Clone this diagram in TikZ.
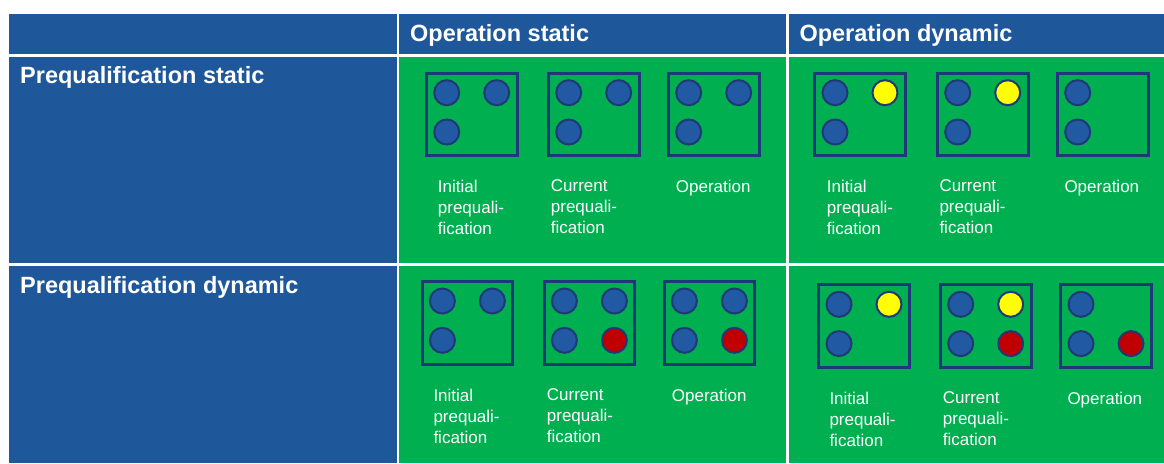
\documentclass[tikz,border=0pt]{standalone}
\usepackage{fontspec}
\setmainfont{Liberation Sans}
\definecolor{hdrblue}{RGB}{31,88,154}
\definecolor{cellgreen}{RGB}{0,176,80}
\definecolor{navy}{RGB}{31,56,120}
\definecolor{dotblue}{RGB}{33,90,162}
\definecolor{dotyellow}{RGB}{255,255,0}
\definecolor{dotred}{RGB}{192,0,0}
\newcommand\mkdot[5]{\if\relax\detokenize{#5}\relax\else\node[dot,fill=#5] (#1-#2) at ([shift={(#3,#4)}]#1.north west) {};\fi}
\newcommand\mkpanel[7]{%
  \node[panelbox] (#1) at (#2+1.4,#3+1.4) {};
  \mkdot{#1}{tl}{20.3}{19.6}{#4}%
  \mkdot{#1}{tr}{70.3}{19.6}{#5}%
  \mkdot{#1}{bl}{20.3}{58.9}{#6}%
  \mkdot{#1}{br}{70.3}{58.9}{#7}}
\begin{document}
\begin{tikzpicture}[x=1pt,y=-1pt,
  hdr/.style={anchor=base west,inner sep=0pt,text=white,font=\fontsize{23.5}{27}\selectfont\bfseries},
  lbl/.style={anchor=north west,inner sep=0pt,align=left,text=white,font=\fontsize{17}{21}\selectfont},
  panelbox/.style={draw=navy,line width=2.8pt,minimum width=90.7pt,minimum height=82.7pt,inner sep=0pt,outer sep=0pt,anchor=north west},
  dot/.style={circle,draw=navy,line width=2pt,minimum size=25pt,inner sep=0pt}]
\useasboundingbox (0,0) rectangle (1164,463);
\fill[white] (0,0) rectangle (1164,463);
% table cells
\fill[hdrblue] (9,14) rectangle (397,54);
\fill[hdrblue] (399,14) rectangle (786,54);
\fill[hdrblue] (789,14) rectangle (1164,54);
\fill[hdrblue] (9,57) rectangle (397,263);
\fill[cellgreen] (399,57) rectangle (786,263);
\fill[cellgreen] (789,57) rectangle (1164,263);
\fill[hdrblue] (9,266) rectangle (397,463);
\fill[cellgreen] (399,266) rectangle (786,463);
\fill[cellgreen] (789,266) rectangle (1164,463);
% headers
\node[hdr] (hos) at (410,41.7) {Operation static};
\node[hdr] (hod) at (799.3,41.7) {Operation dynamic};
\node[hdr] (hps) at (20,83.3) {Prequalification static};
\node[hdr] (hpd) at (20,293.3) {Prequalification dynamic};
% panels row 1
\mkpanel{p11}{425}{71.7}{dotblue}{dotblue}{dotblue}{}
\mkpanel{p12}{547}{71.7}{dotblue}{dotblue}{dotblue}{}
\mkpanel{p13}{667}{71.7}{dotblue}{dotblue}{dotblue}{}
\mkpanel{p14}{813.3}{71.7}{dotblue}{dotyellow}{dotblue}{}
\mkpanel{p15}{936}{71.7}{dotblue}{dotyellow}{dotblue}{}
\mkpanel{p16}{1056}{71.7}{dotblue}{}{dotblue}{}
% panels row 2
\mkpanel{p21}{420.7}{280}{dotblue}{dotblue}{dotblue}{}
\mkpanel{p22}{542.7}{280}{dotblue}{dotblue}{dotblue}{dotred}
\mkpanel{p23}{662.7}{280}{dotblue}{dotblue}{dotblue}{dotred}
\mkpanel{p24}{817.3}{283.3}{dotblue}{dotyellow}{dotblue}{}
\mkpanel{p25}{939}{283.3}{dotblue}{dotyellow}{dotblue}{dotred}
\mkpanel{p26}{1059.3}{283.3}{dotblue}{}{dotblue}{dotred}
% labels row 1
\node[lbl] (l11) at (437.7,179.6) {Initial\\prequali-\\fication};
\node[lbl] (l12) at (550.7,179.6) {Current\\prequali-\\fication};
\node[lbl] (l13) at (675.7,179.6) {Operation};
\node[lbl] (l14) at (826.7,179.6) {Initial\\prequali-\\fication};
\node[lbl] (l15) at (939.3,179.6) {Current\\prequali-\\fication};
\node[lbl] (l16) at (1064.3,179.6) {Operation};
% labels row 2
\node[lbl] (l21) at (433.3,388.6) {Initial\\prequali-\\fication};
\node[lbl] (l22) at (546.7,388.6) {Current\\prequali-\\fication};
\node[lbl] (l23) at (671.7,388.6) {Operation};
\node[lbl] (l24) at (829.3,391.6) {Initial\\prequali-\\fication};
\node[lbl] (l25) at (942.7,391.6) {Current\\prequali-\\fication};
\node[lbl] (l26) at (1067.3,391.6) {Operation};
\end{tikzpicture}
\end{document}
